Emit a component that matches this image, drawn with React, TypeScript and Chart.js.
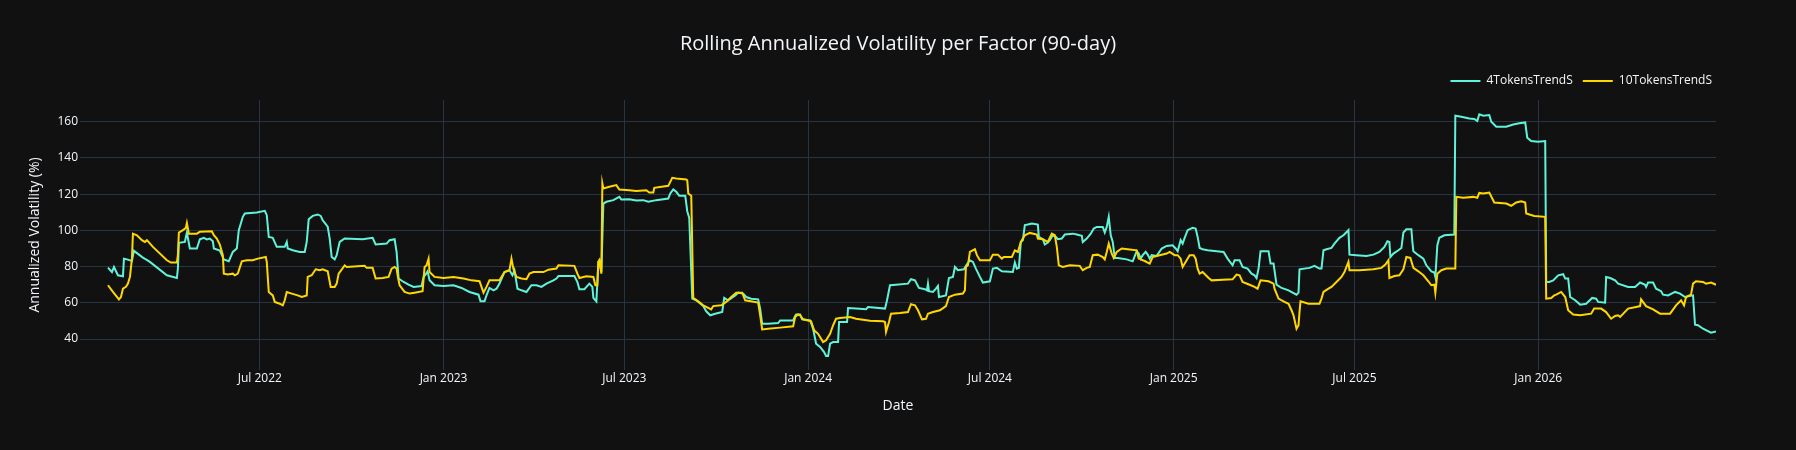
import React, { useEffect, useRef } from 'react';
import { Chart, registerables } from 'chart.js';

Chart.register(...registerables);

// ---------- data ----------
const BASE_DATE = Date.UTC(2022, 0, 1); // day 0 = 2022-01-01
const DAY_MS = 86400000;
const X_START = '2022-01-02';
const X_END = '2026-06-28';

const tickDates = ['2022-07-01', '2023-01-01', '2023-07-01', '2024-01-01', '2024-07-01', '2025-01-01', '2025-07-01', '2026-01-01'];
const tickLabels = ['Jul 2022', 'Jan 2023', 'Jul 2023', 'Jan 2024', 'Jul 2024', 'Jan 2025', 'Jul 2025', 'Jan 2026'];
const yTicks = [40, 60, 80, 100, 120, 140, 160];
const Y_MIN = 22.9;
const Y_MAX = 172.0;

const seriesNames = ['4TokensTrendS', '10TokensTrendS'];
const seriesColors = ['#5ff3d9', '#ffd700'];

// [days since 2022-01-01, annualized volatility %]
const vol4TokensTrendS: [number, number][] = [
  [29,79.4],[33,77],[35,79.8],[39,75.2],[44,74.7],[45,84.4],[48,84],[53,83.1],[55,88.7],[64,85],[67,84],[71,82.6],[88,75.2],[98,73.7],[99,78.9],[100,93.1],[106,93.6],[108,98.8],[111,90],[118,90],[121,95.1],[125,95.9],[128,95],[131,95.5],[134,94],[135,90],[141,88.8],[145,84],[150,83],[154,88.1],[158,90],[160,100.1],[164,107.5],[166,109.3],[178,109.9],[186,110.8],[188,108.4],[190,96.4],[194,95.9],[198,90.9],[206,90.9],[208,93.6],[209,90],[214,89],[221,88.1],[226,88.1],[228,93.6],[230,106.2],[234,108],[239,108.8],[242,108],[244,105.6],[249,102],[251,95.5],[253,85.3],[256,84],[258,86.3],[261,93.6],[266,95.5],[284,95.1],[294,95.9],[297,92.2],[308,92.7],[311,94.6],[316,95.1],[318,88],[320,73.4],[325,71.5],[330,70],[335,68.8],[343,69.3],[345,74.3],[347,75.6],[349,77.4],[351,72.5],[356,69.7],[365,69.3],[375,69.7],[383,68.2],[391,66],[400,64.5],[402,60.8],[406,60.8],[408,64.1],[411,68.2],[415,66.9],[418,67.8],[421,70.6],[426,77],[431,78],[434,75.2],[436,78],[439,67.8],[443,66.9],[448,66],[453,69.7],[458,69.7],[463,68.8],[468,70.6],[475,72.4],[478,73.4],[480,74.8],[496,74.8],[499,71.5],[501,67.5],[506,67.5],[511,70.6],[514,68.8],[515,62.7],[518,60.8],[520,82.6],[521,83.5],[523,77],[525,114.8],[528,115.8],[535,116.7],[541,118.5],[543,117],[551,117.2],[558,116.5],[565,116.7],[570,115.8],[578,116.7],[590,117.6],[592,120.4],[595,122.6],[598,121.3],[601,119.1],[607,119.1],[609,110.6],[611,106.9],[614,62.3],[618,61.4],[625,58.2],[628,55.3],[632,53.1],[637,54],[644,54.9],[646,62.7],[650,61.4],[657,64.1],[660,65.6],[665,65.1],[668,63.2],[673,62.3],[680,61.9],[682,56.8],[684,48.5],[690,48.5],[700,48.8],[702,50.3],[715,50.3],[717,52.7],[718,53.6],[722,53.6],[724,50.9],[732,50.3],[735,45.7],[738,37.4],[742,35.6],[746,32.8],[748,30.6],[750,30.6],[752,37.4],[755,38.3],[760,38.3],[761,49.4],[769,49.4],[770,57.1],[778,56.8],[788,56.4],[790,57.7],[807,56.8],[809,61.4],[812,69.7],[818,70],[830,70.6],[833,73],[837,72.4],[841,68.2],[847,67.5],[849,66.9],[850,70.6],[851,66.4],[855,66],[858,67.8],[860,69.3],[861,63.2],[868,64.1],[871,73.7],[875,74.3],[877,79.8],[880,78],[886,78.5],[888,80.4],[892,83.5],[895,82.6],[898,78.9],[902,74.3],[905,71.2],[912,71.9],[915,78.9],[919,79.3],[924,77.4],[935,77],[937,82.2],[939,78.9],[941,79.3],[943,93.6],[945,94.6],[947,102.9],[950,103.2],[954,103.8],[960,103.2],[961,96.4],[965,95.1],[967,92.2],[970,93.3],[972,94.6],[975,97.3],[978,96.4],[980,95.1],[984,95.5],[987,97.7],[995,98.2],[999,97.7],[1004,97],[1005,93.6],[1009,95.5],[1013,98.2],[1016,101],[1019,101.9],[1025,101.9],[1027,98.8],[1029,101.9],[1031,107.5],[1033,97.3],[1035,93.6],[1037,84.8],[1040,84.8],[1049,84],[1055,82.9],[1059,88.5],[1061,87.2],[1063,84.4],[1065,86.3],[1068,88.1],[1070,86.6],[1072,84.4],[1074,86.3],[1079,85.9],[1084,90],[1089,91.4],[1095,91.8],[1098,90],[1100,88.5],[1103,94.6],[1105,92.7],[1107,95.9],[1110,100.1],[1115,101.4],[1118,101],[1120,96.4],[1122,90.3],[1125,89.6],[1130,89],[1139,88.5],[1146,88.1],[1150,84.4],[1155,80.7],[1157,83.5],[1162,83.5],[1165,79.8],[1170,78.9],[1174,76.1],[1177,75.2],[1179,73.7],[1181,78.9],[1183,88.5],[1191,88.5],[1193,81.7],[1196,81.7],[1199,70],[1204,68.2],[1211,66.9],[1219,64.5],[1221,65.6],[1222,78.5],[1232,79.3],[1237,80.4],[1242,78.9],[1244,78.9],[1246,89],[1249,89.6],[1254,90.3],[1257,92.7],[1262,95.9],[1266,97.3],[1271,100.1],[1272,86.6],[1279,86.3],[1289,85.9],[1296,86.6],[1302,88.1],[1307,90.9],[1310,94],[1312,93.6],[1313,85.3],[1316,87.2],[1321,89],[1324,90.3],[1326,98.8],[1329,100.6],[1334,100.6],[1335,93.6],[1336,88.5],[1341,86.3],[1346,84.4],[1349,80.7],[1354,77.4],[1357,76.7],[1358,74.3],[1360,91.8],[1362,95.9],[1367,97.3],[1377,97.7],[1378,163.3],[1384,162.8],[1392,161.8],[1397,161.5],[1400,160.4],[1402,164.1],[1406,163.3],[1412,163.7],[1414,160],[1419,157.2],[1429,157.2],[1436,158.5],[1442,159.1],[1448,159.6],[1450,151.2],[1454,149.3],[1461,148.9],[1468,149.3],[1469,71.5],[1472,71.5],[1476,72.4],[1481,75.2],[1486,75.8],[1488,73.4],[1491,73.4],[1493,63.2],[1498,61.4],[1503,59],[1509,59.5],[1515,62.7],[1519,62.3],[1521,60.5],[1528,60.1],[1529,74.3],[1533,73.7],[1538,72.4],[1541,70.6],[1551,68.8],[1558,68.8],[1563,71.2],[1568,70],[1569,68.8],[1571,71.2],[1576,71.2],[1579,67.8],[1584,66.4],[1586,64.5],[1591,64.1],[1598,66],[1603,65.1],[1608,63.2],[1616,64.1],[1618,47.9],[1621,47.6],[1626,45.7],[1634,43.5],[1639,44.2]
];

const vol10TokensTrendS: [number, number][] = [
  [29,69.7],[34,66],[40,61.9],[42,63.2],[44,67.8],[47,68.8],[49,70.6],[51,74.3],[53,84.4],[54,98.2],[58,97.3],[63,94.6],[66,93.6],[68,94.6],[74,90.9],[88,83.5],[92,82.2],[98,82.2],[99,86.3],[100,98.8],[104,100.1],[107,101.4],[108,104.1],[110,98.2],[118,98.2],[121,99.2],[133,99.5],[135,97.3],[138,95.5],[141,92.2],[144,86.3],[145,76.1],[149,75.6],[154,76.1],[156,75.2],[159,76.1],[163,82.9],[168,83.5],[174,83.5],[179,84.4],[187,85.3],[188,82.6],[190,66],[194,64.1],[196,60.5],[201,59.5],[204,58.6],[206,61.4],[208,66],[213,65.1],[219,64.1],[223,63.2],[228,64.1],[229,74.3],[233,75.2],[237,78.5],[241,78],[244,78.5],[249,77.4],[252,68.8],[256,68.8],[258,70.6],[260,76.1],[266,80.7],[268,79.8],[286,80.4],[288,79.3],[294,79.3],[297,73.4],[304,73.7],[310,74.3],[313,78.9],[316,79.8],[318,78.9],[319,75.2],[321,69.7],[326,66],[331,65.1],[336,65.6],[344,66.4],[346,79.8],[348,80.7],[350,84.4],[351,77],[356,74.3],[365,73.7],[375,74.3],[385,73.4],[393,72.4],[401,71.9],[405,65.6],[408,68.8],[411,72.4],[421,72.4],[426,77],[431,78],[433,84.4],[435,78.5],[438,74.3],[443,73.4],[448,73],[451,76.1],[455,77],[465,77],[470,78.3],[478,78.9],[480,80.7],[496,80.4],[499,76.1],[501,73.7],[508,74.7],[515,74.3],[517,69.7],[519,69.7],[520,82.6],[521,83.5],[523,76.1],[524,125.9],[525,123.1],[531,124.1],[538,125],[541,122.6],[551,122.2],[558,121.7],[568,122.2],[571,120.9],[575,120.9],[576,123.5],[590,124.6],[594,129],[598,128.7],[608,128.1],[609,127.7],[610,120.4],[613,119.1],[615,62.7],[620,60.8],[625,58.6],[633,56.4],[635,58.2],[643,58.6],[648,60.5],[653,63.2],[658,65.6],[664,65.6],[667,61.4],[680,60.1],[682,53.1],[684,45.3],[690,45.7],[702,46.3],[715,47],[717,52.2],[720,53.6],[722,53.1],[725,50.9],[733,49.8],[736,44.8],[740,42.9],[745,38.3],[748,39.3],[752,42.9],[755,47.6],[758,51.2],[762,51.6],[772,52.2],[778,51.2],[792,50.1],[805,49.8],[807,49.4],[808,43.9],[811,49.4],[813,54],[822,54.4],[830,54.9],[833,59.2],[837,58.6],[840,55.9],[844,50.9],[848,51.2],[850,54],[855,54.9],[862,55.9],[868,58.2],[871,63.2],[877,64.5],[885,65.1],[887,66.9],[888,79.8],[890,80.7],[892,88.1],[897,89.6],[899,86.3],[902,83.5],[912,83.5],[915,86.6],[920,86.6],[924,84.4],[926,85.3],[934,85.3],[937,89],[940,88.1],[943,93.6],[947,97.3],[952,98.6],[959,97.7],[960,95.5],[965,95.1],[970,93.6],[974,98.2],[977,97.3],[979,90.9],[981,80.7],[985,79.8],[992,80.7],[1002,80.4],[1005,78],[1009,79.3],[1012,79.8],[1015,86.3],[1020,86.6],[1025,85.3],[1027,84],[1029,88.1],[1031,92.7],[1034,87.2],[1036,84.8],[1039,88.1],[1044,90],[1050,89.6],[1059,89],[1061,84.4],[1067,83.1],[1072,81.7],[1075,85.3],[1082,86.3],[1089,87.2],[1092,88.1],[1097,86.3],[1100,86.3],[1103,84.4],[1105,79.8],[1109,83.5],[1112,86.3],[1116,86.3],[1118,84.4],[1120,78.9],[1122,76.1],[1125,77],[1129,74.8],[1131,73.7],[1134,72.4],[1145,72.8],[1155,73],[1159,75.6],[1162,75.2],[1165,71.5],[1172,70],[1177,68.8],[1180,67.8],[1183,72.4],[1191,71.9],[1196,70.6],[1197,67.8],[1201,62.3],[1206,60.8],[1211,59.5],[1214,55.9],[1216,53.1],[1219,45.7],[1221,47.6],[1222,54.9],[1223,60.8],[1231,59.5],[1242,59.5],[1244,62.3],[1246,66],[1251,67.8],[1254,68.8],[1259,71.5],[1264,74.3],[1267,77],[1271,82.6],[1272,78],[1282,78],[1296,78.5],[1304,79.3],[1308,81.1],[1311,83.5],[1312,73.7],[1317,74.8],[1322,75.2],[1326,78.5],[1329,85.3],[1333,84.8],[1336,79.3],[1341,77.4],[1346,75.2],[1351,71.9],[1354,69.7],[1357,70],[1358,65.6],[1360,76.1],[1364,78],[1369,78.9],[1378,78.9],[1379,118.5],[1386,118],[1396,118.5],[1400,118],[1402,120.7],[1406,120.4],[1412,120.9],[1417,115.4],[1429,114.8],[1434,113.6],[1439,115.4],[1444,116.1],[1448,115.4],[1449,109.3],[1457,108],[1468,107.5],[1469,62.3],[1474,62.7],[1477,64.1],[1479,64.5],[1484,66],[1488,63.2],[1491,55.9],[1496,53.5],[1503,53.1],[1514,54],[1517,56.8],[1524,56.8],[1529,54.9],[1534,51.2],[1538,52.7],[1541,53.1],[1543,52.2],[1551,56.8],[1559,57.7],[1563,58.2],[1564,61.9],[1569,58.2],[1576,56.4],[1583,54],[1593,54],[1599,58.6],[1604,61.4],[1607,58.6],[1609,63.2],[1614,64.5],[1616,70.6],[1619,71.9],[1626,71.5],[1629,70.6],[1634,71.2],[1639,70]
];

// ---------- styling ----------
const BG = '#111111';
const TEXT = '#f2f5fa';
const GRID = '#283442';
const FONT = '"Open Sans", verdana, arial, sans-serif';

const dayOf = (iso: string) => (Date.parse(iso) - BASE_DATE) / DAY_MS;

const legendNudge = {
  id: 'legendNudge',
  afterLayout(chart: any) {
    const lg = chart.legend;
    if (!lg) return;
    lg.top -= 3;
    lg.bottom -= 3;
    lg.left += 6;
    lg.right += 6;
  },
};

export default function App() {
  const ref = useRef<HTMLCanvasElement | null>(null);

  useEffect(() => {
    document.body.style.margin = '0';
    document.body.style.background = BG;
    Chart.defaults.font.family = FONT;
    Chart.defaults.color = TEXT;
    const canvas = ref.current;
    if (!canvas) return;

    const allSeries = [vol4TokensTrendS, vol10TokensTrendS];
    const chart = new Chart(canvas, {
      type: 'line',
      data: {
        datasets: allSeries.map((s, i) => ({
          label: seriesNames[i],
          data: s.map(([d, v]) => ({ x: d, y: v })),
          borderColor: seriesColors[i],
          backgroundColor: seriesColors[i],
          borderWidth: 2,
          pointRadius: 0,
          tension: 0,
          fill: false,
          yAxisID: 'y',
          order: i === 0 ? 1 : 0,
        })),
      },
      options: {
        animation: false,
        responsive: false,
        devicePixelRatio: 1,
        events: [],
        layout: { padding: 0 },
        plugins: {
          title: {
            display: true,
            text: 'Rolling Annualized Volatility per Factor (90-day)',
            color: TEXT,
            font: { size: 20, weight: 'normal', family: FONT },
            padding: { top: 32, bottom: 12 },
          },
          legend: {
            display: true,
            position: 'top',
            align: 'end',
            fullSize: false,
            labels: {
              usePointStyle: true,
              pointStyle: 'line',
              pointStyleWidth: 30,
              color: TEXT,
              font: { size: 12, family: FONT },
              padding: 10,
              sort: (a: any, b: any) => a.datasetIndex - b.datasetIndex,
            },
          },
          tooltip: { enabled: false },
        },
        scales: {
          x: {
            type: 'linear',
            min: dayOf(X_START),
            max: dayOf(X_END),
            afterBuildTicks: (s: any) => {
              s.ticks = tickDates.map((d) => ({ value: dayOf(d) }));
            },
            afterFit: (s: any) => {
              s.height = 80;
            },
            ticks: {
              autoSkip: false,
              maxRotation: 0,
              minRotation: 0,
              padding: 1,
              color: TEXT,
              font: { size: 12, family: FONT },
              callback: (_v: any, i: number) => tickLabels[i],
            },
            grid: { color: GRID, lineWidth: 1, drawTicks: false },
            border: { display: false },
            title: {
              display: true,
              text: 'Date',
              color: TEXT,
              font: { size: 14, family: FONT },
              padding: { top: 0, bottom: 36 },
            },
          },
          y: {
            type: 'linear',
            position: 'left',
            min: Y_MIN,
            max: Y_MAX,
            afterBuildTicks: (s: any) => {
              s.ticks = yTicks.map((v) => ({ value: v }));
            },
            afterFit: (s: any) => {
              s.width = 80;
            },
            ticks: {
              padding: 2,
              color: TEXT,
              font: { size: 12, family: FONT },
            },
            grid: { color: GRID, lineWidth: 1, drawTicks: false },
            border: { display: false },
            title: {
              display: true,
              text: 'Annualized Volatility (%)',
              color: TEXT,
              font: { size: 14, family: FONT },
              padding: { top: 27, bottom: 0 },
            },
          },
          yPad: {
            type: 'linear',
            position: 'right',
            display: true,
            afterFit: (s: any) => {
              s.width = 80;
            },
            grid: { display: false, drawTicks: false },
            ticks: { display: false },
            border: { display: false },
          },
        },
      } as any,
      plugins: [legendNudge],
    });

    return () => chart.destroy();
  }, []);

  return (
    <canvas
      ref={ref}
      width={1796}
      height={450}
      style={{ display: 'block', width: 1796, height: 450, background: BG }}
    />
  );
}
